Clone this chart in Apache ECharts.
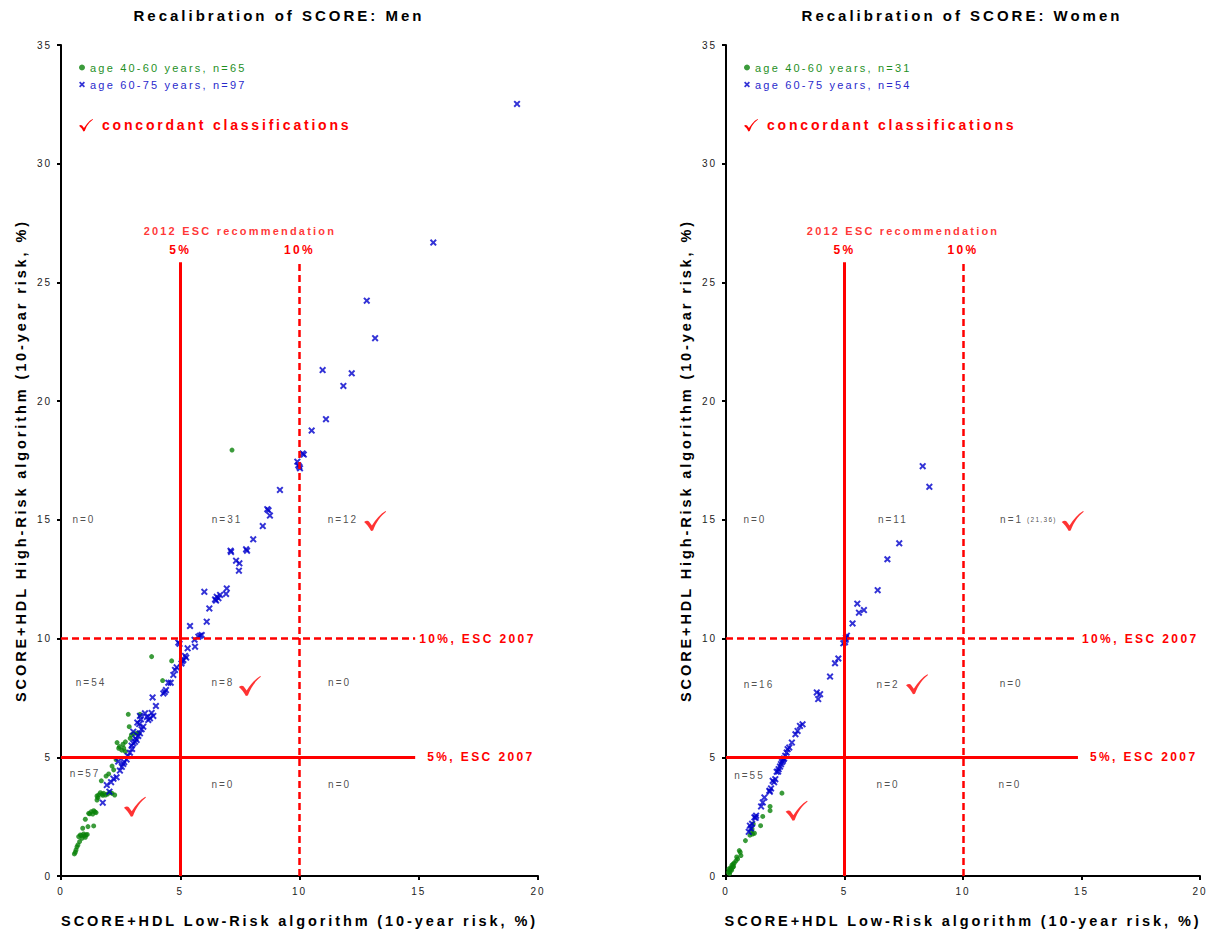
<!DOCTYPE html>
<html><head><meta charset="utf-8">
<script src="https://cdn.jsdelivr.net/npm/echarts@6/dist/echarts.min.js"></script>
<style>
html,body{margin:0;padding:0;background:#fff;}
#main{width:1211px;height:933px;}
#main svg text{letter-spacing:0.2em;}
</style></head><body><div id="main"></div>
<script>
// ---------------- DATA ----------------
const menTitle = 'Recalibration of SCORE: Men';
const womenTitle = 'Recalibration of SCORE: Women';
const xAxisName = 'SCORE+HDL Low-Risk algorithm (10-year risk, %)';
const yAxisName = 'SCORE+HDL High-Risk algorithm (10-year risk, %)';

const menYoungName = 'age 40-60 years, n=65';
const menOldName = 'age 60-75 years, n=97';
const womenYoungName = 'age 40-60 years, n=31';
const womenOldName = 'age 60-75 years, n=54';
const concordantText = 'concordant classifications';

const menYoung = [[0.56,0.93],[0.60,1.00],[0.63,1.10],[0.67,1.23],[0.71,1.31],[0.74,1.66],[0.78,1.45],[0.81,1.73],[0.85,1.70],[0.88,1.59],
[0.91,2.01],[0.95,1.77],[0.98,1.70],[1.02,1.63],[1.05,1.73],[1.10,1.75],[1.02,2.39],[1.13,2.08],[1.37,2.11],[1.16,2.64],
[1.20,2.62],[1.27,2.71],[1.33,2.61],[1.37,2.75],[1.42,2.70],[1.47,2.67],[1.51,3.20],[1.51,3.37],[1.55,3.30],[1.58,3.42],
[1.65,3.51],[1.72,3.45],[1.75,3.40],[1.79,3.48],[1.86,3.41],[1.95,3.45],[2.05,3.52],[2.14,3.48],[2.25,3.41],[1.69,4.01],
[1.89,4.21],[2.00,4.30],[2.21,4.47],[2.14,4.63],[2.31,4.90],[2.35,5.62],[2.42,5.38],[2.45,5.45],[2.55,5.30],[2.60,5.55],
[2.63,5.38],[2.70,5.24],[2.70,5.65],[2.90,5.80],[2.95,5.94],[3.05,6.00],[3.17,6.01],[3.26,6.01],[2.86,6.29],[2.82,6.81],
[3.31,6.81],[4.26,8.23],[4.64,9.06],[3.80,9.24],[7.17,17.94]];

const menOld = [[1.75,3.09],[2.03,3.55],[1.92,3.83],[2.10,3.95],[2.20,4.10],[2.33,4.16],[2.47,4.44],[2.55,4.60],[2.61,4.72],[2.40,4.82],[2.65,4.80],[2.75,4.91],
[2.80,5.05],[2.89,5.19],[2.98,5.35],[2.96,5.49],[3.03,5.59],[3.10,5.65],[3.12,5.80],[3.17,5.73],[3.24,5.90],[3.03,6.08],[3.31,6.01],
[3.38,6.18],[3.45,6.29],[3.20,6.46],[3.28,6.40],[3.35,6.60],[3.31,6.74],[3.52,6.85],[3.60,6.70],[3.66,6.57],[3.73,6.64],
[3.80,6.87],[3.87,6.74],[3.98,7.16],[3.84,7.52],[4.29,7.69],[4.35,7.75],[4.40,7.83],[4.50,8.14],[4.60,8.14],[4.71,8.47],
[4.78,8.68],[4.85,8.79],[4.92,9.83],[4.97,9.78],
[5.05,8.95],[5.08,9.05],[5.13,9.10],[5.20,9.27],[5.25,9.20],[5.31,9.59],[5.62,9.66],[5.60,9.95],
[5.41,10.53],[5.76,10.08],[5.83,10.12],[5.90,10.15],[6.11,10.71],[6.22,11.27],[6.01,11.97],[6.46,11.65],[6.50,11.60],[6.53,11.76],
[6.60,11.70],[6.67,11.84],[6.92,11.88],[6.95,12.11],[7.11,13.70],[7.13,13.65],[7.34,13.28],[7.48,13.17],[7.46,12.86],[7.76,13.76],
[7.80,13.70],[8.06,14.18],[8.46,14.74],[8.65,15.45],[8.70,15.40],[8.76,15.18],[9.18,16.26],[9.91,17.45],[9.95,17.30],[9.99,17.24],
[10.02,17.17],[10.13,17.80],[10.18,17.75],[10.51,18.76],[10.97,21.31],[11.11,19.24],[11.84,20.64],[12.19,21.17],[12.82,24.23],[13.17,22.65],
[15.61,26.68],[19.12,32.52]];

const womenYoung = [[0.10,0.15],[0.14,0.22],[0.17,0.18],[0.21,0.29],[0.25,0.46],[0.28,0.37],[0.20,0.35],[0.32,0.40],[0.24,0.25],[0.42,0.64],
[0.49,0.72],[0.45,0.80],[0.56,1.07],[0.63,0.86],[0.60,1.00],[0.82,1.49],[1.01,1.72],[1.12,1.77],[1.10,1.98],[1.15,2.19],
[1.05,1.85],[1.46,2.12],[1.55,2.51],[1.86,2.93],[1.86,2.75],[2.36,3.49],[0.35,0.55],[0.15,0.10],[1.20,1.80],[0.30,0.50],[0.12,0.30]];

const womenOld = [[0.96,1.86],[1.01,2.12],[1.05,2.00],[1.20,2.47],[1.27,2.54],[1.25,2.45],[1.48,2.93],[1.62,3.31],[1.83,3.59],[1.90,3.69],
[1.85,3.55],[1.97,4.01],[2.08,4.08],[2.03,3.95],[2.14,4.39],[2.22,4.50],[2.28,4.61],[2.32,4.71],[2.42,4.92],[2.20,4.40],
[2.36,4.80],[2.45,4.95],[1.10,2.20],[1.55,3.10],[2.40,4.85],
[2.50,5.06],[2.56,5.20],[2.60,5.34],[2.67,5.41],[2.78,5.62],[2.93,5.97],[3.02,6.11],[3.12,6.32],[3.23,6.39],[3.83,7.73],
[3.97,7.66],[3.89,7.45],[4.39,8.40],[4.60,8.96],[4.74,9.16],[4.95,9.80],
[5.02,9.85],[5.05,9.95],
[5.06,10.04],[5.10,10.12],[5.34,10.64],[5.54,11.47],[5.61,11.09],[5.82,11.20],[6.40,12.04],[6.81,13.34],[7.31,14.01],[8.30,17.26],[8.58,16.39]];

const recommendation2012 = [5, 10];        // vertical lines (x)
const recommendation2012Labels = ['5%', '10%'];
const esc2007 = [5, 10];                    // horizontal lines (y)
const esc2007Labels = ['5%, ESC 2007', '10%, ESC 2007'];
const recTitle = '2012 ESC recommendation';

const menCounts = ['n=0','n=31','n=12','n=54','n=8','n=0','n=57','n=0','n=0'];
const womenCounts = ['n=0','n=11','n=1','n=16','n=2','n=0','n=55','n=0','n=0'];
const womenOutlierNote = '(21,36)';

// ---------------- LAYOUT ----------------
const FONT = '"Liberation Sans", Arial, Helvetica, sans-serif';
const RED = '#ff0000';
const GREEN = '#0a820a';
const BLUE = '#0000cc';
const CROSS = 'path://M0,2 L2,0 L5,3 L8,0 L10,2 L7,5 L10,8 L8,10 L5,7 L2,10 L0,8 L3,5 Z';
const CHECK = 'path://M0,11 C2,9.5 4,9.5 5,10.5 L8,14.5 C12,8 17,3 22,0 L22.6,0.8 C17,5 12.5,11 9.2,19.5 L7.2,20 C5,16 2.5,13 0,11 Z';
const checkPts = [[0,11],[2.5,9.6],[5,10.5],[8,14.5],[13,7.5],[17.5,3],[22,0],[22.6,0.8],[17,5.5],[12.5,11.5],[9.2,19.5],[7.2,20],[4.5,15.5]];

const vLineTop = 25.85, hLineEnd = 14.85;
const menCountPos = [[0.96,15.0],[6.96,15.0],[11.82,15.0],[1.26,8.14],[6.79,8.14],[11.68,8.17],[1.01,4.33],[6.79,3.86],[11.68,3.86]];
const womenCountPos = [[1.22,15.02],[7.04,15.02],[12.05,15.02],[1.39,8.08],[6.84,8.08],[12.03,8.10],[0.99,4.22],[6.84,3.87],[11.98,3.87]];
const menCheckPos = [[13.17,14.95],[7.92,8.0],[3.10,2.92]];
const womenCheckPos = [[14.63,14.95],[8.06,8.08],[2.98,2.75]];

function refLines(idx) {
  const solid = {type:'solid', width:3, color:RED};
  const dashed = {type:[7,4], width:2.5, color:RED};
  const lbl = {color:RED, fontWeight:'bold', fontSize:12, fontFamily:FONT};
  const d = [];
  recommendation2012.forEach((v,i)=>{
    d.push([{coord:[v,0], lineStyle: i===0?solid:dashed, label:Object.assign({formatter:recommendation2012Labels[i], position:'end', distance:6}, lbl)}, {coord:[v,vLineTop]}]);
  });
  esc2007.forEach((v,i)=>{
    d.push([{coord:[0,v], lineStyle: i===0?solid:dashed, label:Object.assign({formatter:esc2007Labels[i], position:'end', distance:i===0?12:4}, lbl)}, {coord:[hLineEnd,v]}]);
  });
  return {type:'scatter', xAxisIndex:idx, yAxisIndex:idx, data:[], z:1, silent:true,
    markLine:{symbol:['none','none'], silent:true, animation:false, data:d}};
}

function annotations(idx, counts, pos, recX, extra) {
  const data = counts.map((t,i)=>({name:t, value:pos[i]}));
  data.push({name:recTitle, value:[recX,27.17], label:{color:RED, fontWeight:'bold', fontSize:11}});
  if (extra) data.push(extra);
  return {type:'scatter', xAxisIndex:idx, yAxisIndex:idx, symbolSize:1, silent:true, z:5,
    itemStyle:{color:'rgba(0,0,0,0)'},
    label:{show:true, position:'inside', formatter:'{b}', fontSize:10, color:'#222', fontFamily:FONT},
    data:data};
}
function checks(idx, pos) {
  return {type:'scatter', xAxisIndex:idx, yAxisIndex:idx, symbol:CHECK, symbolSize:[22,20], silent:true, z:4,
    itemStyle:{color:RED}, data:pos};
}

function xAx(idx){ return {gridIndex:idx, type:'value', min:0, max:20, interval:5,
  axisLine:{show:true, onZero:false, lineStyle:{color:'#000', width:2}},
  axisTick:{show:true, inside:false, length:4, lineStyle:{color:'#000', width:2}},
  axisLabel:{fontSize:10, color:'#222', margin:10, fontFamily:FONT},
  splitLine:{show:false},
  name:xAxisName, nameLocation:'middle', nameGap:37,
  nameTextStyle:{fontSize:14.5, fontWeight:'bold', color:'#000', fontFamily:FONT}}; }
function yAx(idx){ return {gridIndex:idx, type:'value', min:0, max:35, interval:5,
  axisLine:{show:true, onZero:false, lineStyle:{color:'#000', width:2}},
  axisTick:{show:true, inside:false, length:4, lineStyle:{color:'#000', width:2}},
  axisLabel:{fontSize:10, color:'#222', margin:9, fontFamily:FONT},
  splitLine:{show:false},
  name:yAxisName, nameLocation:'middle', nameGap:33,
  nameTextStyle:{fontSize:14.5, fontWeight:'bold', color:'#000', fontFamily:FONT}}; }

function legend(left, names) {
  return {left:left, top:62, orient:'vertical', padding:0, itemGap:6, itemWidth:6, itemHeight:6,
    selectedMode:false, textStyle:{fontSize:11, fontFamily:FONT},
    data:[{name:names[0], textStyle:{color:'#1f8f1f'}}, {name:names[1], textStyle:{color:'#2a2acc'}}]};
}
function legendCheck(x0) {
  const s = 0.62;
  return [
    {type:'polygon', shape:{points:checkPts.map(p=>[x0+p[0]*s, 119+p[1]*s])}, style:{fill:RED}, silent:true},
    {type:'text', left:x0+23, top:118, style:{text:concordantText, fill:RED, font:'bold 14px '+FONT}, silent:true}
  ];
}

const option = {
  animation:false,
  backgroundColor:'#fff',
  textStyle:{fontFamily:FONT},
  title:[
    {text:menTitle, left:279, top:8, padding:0, textAlign:'center', textStyle:{fontSize:15, fontWeight:'bold', color:'#000', fontFamily:FONT}},
    {text:womenTitle, left:962, top:8, padding:0, textAlign:'center', textStyle:{fontSize:15, fontWeight:'bold', color:'#000', fontFamily:FONT}}
  ],
  legend:[legend(79,[menYoungName,menOldName]), legend(744,[womenYoungName,womenOldName])],
  grid:[{left:61, top:45, width:477, height:831}, {left:726, top:45, width:474, height:832}],
  xAxis:[xAx(0), xAx(1)],
  yAxis:[yAx(0), yAx(1)],
  graphic:[].concat(legendCheck(79), legendCheck(744)),
  series:[
    refLines(0),
    {name:menYoungName, type:'scatter', xAxisIndex:0, yAxisIndex:0, symbol:'circle', symbolSize:5, itemStyle:{color:GREEN}, data:menYoung, z:3},
    {name:menOldName, type:'scatter', xAxisIndex:0, yAxisIndex:0, symbol:CROSS, symbolSize:7, itemStyle:{color:BLUE}, data:menOld, z:3},
    annotations(0, menCounts, menCountPos, 7.5),
    checks(0, menCheckPos),
    refLines(1),
    {name:womenYoungName, type:'scatter', xAxisIndex:1, yAxisIndex:1, symbol:'circle', symbolSize:5, itemStyle:{color:GREEN}, data:womenYoung, z:3},
    {name:womenOldName, type:'scatter', xAxisIndex:1, yAxisIndex:1, symbol:CROSS, symbolSize:7, itemStyle:{color:BLUE}, data:womenOld, z:3},
    annotations(1, womenCounts, womenCountPos, 7.47, {name:womenOutlierNote, value:[13.33,15.02], label:{fontSize:6.5}}),
    checks(1, womenCheckPos)
  ]
};
const chart = echarts.init(document.getElementById('main'), null, {renderer:'svg'});
chart.setOption(option);
</script></body></html>
